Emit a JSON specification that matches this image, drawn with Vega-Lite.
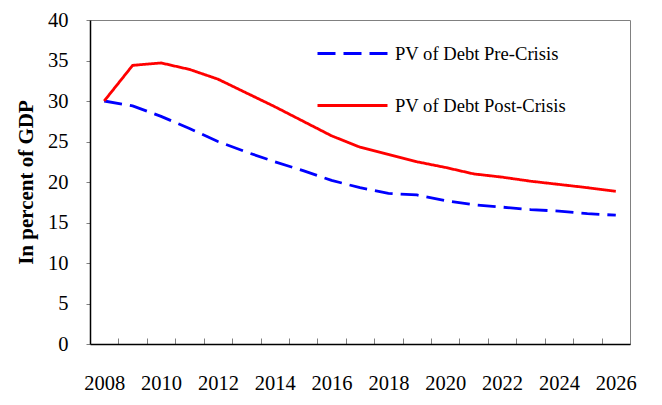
{
  "$schema": "https://vega.github.io/schema/vega-lite/v6.json",
  "width": 540,
  "height": 324,
  "autosize": {"type": "none"},
  "padding": {"left": 90, "top": 20, "right": 32, "bottom": 61},
  "background": "white",
  "data": {
    "values": [
      {"year": 2008, "series": "PV of Debt Pre-Crisis", "value": 30.0},
      {"year": 2009, "series": "PV of Debt Pre-Crisis", "value": 29.4},
      {"year": 2010, "series": "PV of Debt Pre-Crisis", "value": 28.1},
      {"year": 2011, "series": "PV of Debt Pre-Crisis", "value": 26.6},
      {"year": 2012, "series": "PV of Debt Pre-Crisis", "value": 25.0},
      {"year": 2013, "series": "PV of Debt Pre-Crisis", "value": 23.7},
      {"year": 2014, "series": "PV of Debt Pre-Crisis", "value": 22.5},
      {"year": 2015, "series": "PV of Debt Pre-Crisis", "value": 21.4},
      {"year": 2016, "series": "PV of Debt Pre-Crisis", "value": 20.2},
      {"year": 2017, "series": "PV of Debt Pre-Crisis", "value": 19.3},
      {"year": 2018, "series": "PV of Debt Pre-Crisis", "value": 18.6},
      {"year": 2019, "series": "PV of Debt Pre-Crisis", "value": 18.4},
      {"year": 2020, "series": "PV of Debt Pre-Crisis", "value": 17.7},
      {"year": 2021, "series": "PV of Debt Pre-Crisis", "value": 17.2},
      {"year": 2022, "series": "PV of Debt Pre-Crisis", "value": 16.9},
      {"year": 2023, "series": "PV of Debt Pre-Crisis", "value": 16.6},
      {"year": 2024, "series": "PV of Debt Pre-Crisis", "value": 16.4},
      {"year": 2025, "series": "PV of Debt Pre-Crisis", "value": 16.1},
      {"year": 2026, "series": "PV of Debt Pre-Crisis", "value": 15.9},
      {"year": 2008, "series": "PV of Debt Post-Crisis", "value": 30.0},
      {"year": 2009, "series": "PV of Debt Post-Crisis", "value": 34.4},
      {"year": 2010, "series": "PV of Debt Post-Crisis", "value": 34.7},
      {"year": 2011, "series": "PV of Debt Post-Crisis", "value": 33.9},
      {"year": 2012, "series": "PV of Debt Post-Crisis", "value": 32.7},
      {"year": 2013, "series": "PV of Debt Post-Crisis", "value": 31.0},
      {"year": 2014, "series": "PV of Debt Post-Crisis", "value": 29.3},
      {"year": 2015, "series": "PV of Debt Post-Crisis", "value": 27.5},
      {"year": 2016, "series": "PV of Debt Post-Crisis", "value": 25.7},
      {"year": 2017, "series": "PV of Debt Post-Crisis", "value": 24.3},
      {"year": 2018, "series": "PV of Debt Post-Crisis", "value": 23.4},
      {"year": 2019, "series": "PV of Debt Post-Crisis", "value": 22.5},
      {"year": 2020, "series": "PV of Debt Post-Crisis", "value": 21.8},
      {"year": 2021, "series": "PV of Debt Post-Crisis", "value": 21.0},
      {"year": 2022, "series": "PV of Debt Post-Crisis", "value": 20.6},
      {"year": 2023, "series": "PV of Debt Post-Crisis", "value": 20.1},
      {"year": 2024, "series": "PV of Debt Post-Crisis", "value": 19.7},
      {"year": 2025, "series": "PV of Debt Post-Crisis", "value": 19.3},
      {"year": 2026, "series": "PV of Debt Post-Crisis", "value": 18.85}
    ]
  },
  "mark": {"type": "line", "strokeWidth": 2.8},
  "encoding": {
    "x": {
      "field": "year",
      "type": "ordinal",
      "scale": {"type": "band", "paddingInner": 0, "paddingOuter": 0},
      "axis": {
        "title": null,
        "labelAngle": 0,
        "tickBand": "extent",
        "tickSize": -6,
        "tickColor": "#808080",
        "labelExpr": "datum.value % 2 == 0 ? datum.label : ''",
        "labelOverlap": false,
        "labelPadding": 35,
        "labelFont": "Liberation Serif",
        "labelFontSize": 20.5,
        "labelColor": "black",
        "domainColor": "black",
        "domainWidth": 1.5,
        "grid": false
      }
    },
    "y": {
      "field": "value",
      "type": "quantitative",
      "scale": {"domain": [0, 40]},
      "axis": {
        "title": "In percent of GDP",
        "values": [0, 5, 10, 15, 20, 25, 30, 35, 40],
        "grid": false,
        "tickSize": 4,
        "tickColor": "#808080",
        "labelPadding": 18,
        "titlePadding": 11,
        "titleFont": "Liberation Serif",
        "titleFontSize": 21,
        "titleFontWeight": "bold",
        "titleColor": "black",
        "labelFont": "Liberation Serif",
        "labelFontSize": 20.5,
        "labelColor": "black",
        "domainColor": "black",
        "domainWidth": 1.5
      }
    },
    "color": {
      "field": "series",
      "type": "nominal",
      "scale": {"domain": ["PV of Debt Pre-Crisis", "PV of Debt Post-Crisis"], "range": ["#0000FF", "#FF0000"]},
      "legend": {"orient": "none", "legendX": 226, "legendY": -3, "title": null, "direction": "vertical"}
    },
    "strokeDash": {
      "field": "series",
      "type": "nominal",
      "scale": {"domain": ["PV of Debt Pre-Crisis", "PV of Debt Post-Crisis"], "range": [[18, 8], [1, 0]]},
      "legend": {"orient": "none", "legendX": 226, "legendY": -3, "title": null, "direction": "vertical"}
    }
  },
  "config": {
    "view": {"stroke": "#808080", "strokeWidth": 1},
    "legend": {
      "symbolType": "stroke",
      "symbolSize": 4900,
      "symbolStrokeWidth": 3,
      "labelFont": "Liberation Serif",
      "labelFontSize": 18.6,
      "labelColor": "black",
      "labelOffset": 6,
      "rowPadding": 5,
      "padding": 0,
      "labelLimit": 300
    }
  }
}
